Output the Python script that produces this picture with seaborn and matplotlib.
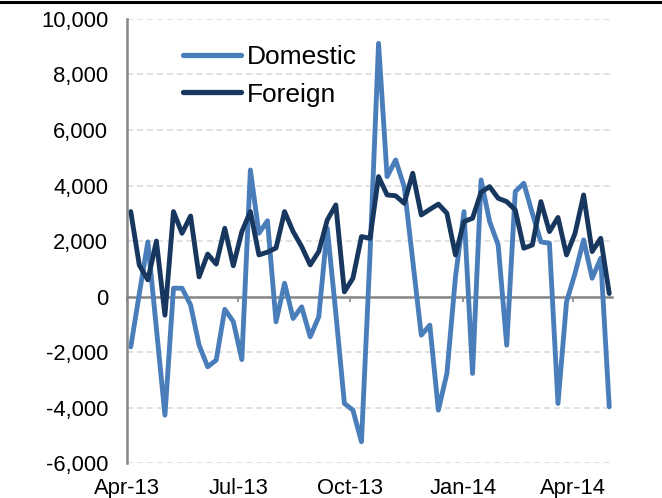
import numpy as np
import pandas as pd
import seaborn as sns
import matplotlib.pyplot as plt
import matplotlib.dates as mdates
from matplotlib.lines import Line2D
from matplotlib.ticker import FuncFormatter

sns.set_theme(style="white")
plt.rcParams["font.family"] = ["Liberation Sans", "DejaVu Sans"]

# weekly flows
weeks = pd.date_range("2013-04-04", periods=57, freq="7D")
domestic = [-1810, 100, 1970, -1150, -4270, 300, 300, -300, -1750, -2530,
            -2290, -460, -900, -2270, 4560, 2280, 2730, -910, 480, -790,
            -370, -1450, -730, 2460, -600, -3850, -4090, -5230, 1500, 9120,
            4320, 4920, 3960, 1300, -1390, -1030, -4090, -2770, 700, 3060,
            -2770, 4200, 2700, 1860, -1750, 3780, 4080, 3000, 1970, 1920,
            -3850, -190, 840, 2040, 660, 1380, -3970]
foreign = [3060, 1130, 600, 2000, -670, 3060, 2280, 2900, 710, 1530,
           1170, 2460, 1110, 2340, 3060, 1500, 1600, 1750, 3060, 2340,
           1800, 1140, 1620, 2760, 3300, 170, 660, 2160, 2100, 4320,
           3660, 3630, 3360, 4440, 2940, 3140, 3330, 3000, 1500, 2700,
           2820, 3760, 3960, 3540, 3420, 3120, 1740, 1860, 3420, 2340,
           2850, 1500, 2280, 3660, 1620, 2100, 110]
series_names = ["Domestic", "Foreign"]
colors = ["#4A7EBB", "#17375E"]
tick_dates = pd.to_datetime(["2013-04-01", "2013-07-01", "2013-10-01",
                             "2014-01-01", "2014-04-01"])
tick_labels = ["Apr-13", "Jul-13", "Oct-13", "Jan-14", "Apr-14"]
y_ticks = list(range(-6000, 10001, 2000))

df = pd.DataFrame({
    "week": np.tile(weeks, 2),
    "flow": domestic + foreign,
    "series": np.repeat(series_names, len(weeks)),
})

fig = plt.figure(figsize=(6.62, 4.98), dpi=100)
ax = fig.add_axes([0.192, 0.070, 0.732, 0.892])

sns.lineplot(data=df, x="week", y="flow", hue="series", hue_order=series_names,
             palette=colors, linewidth=3.5, solid_joinstyle="round", ax=ax)

ax.set_xlim(pd.Timestamp("2013-04-01"), pd.Timestamp("2014-05-03"))
ax.set_ylim(-6000, 10000)
ax.set_yticks(y_ticks)
ax.yaxis.set_major_formatter(FuncFormatter(lambda v, p: f"{int(v):,}"))
ax.set_xticks(tick_dates)
ax.set_xticklabels(tick_labels)
ax.set_xlabel("")
ax.set_ylabel("")

ax.grid(axis="y", color="#D9D9D9", linestyle=(0, (4, 2.5)), linewidth=1.1)
ax.grid(axis="x", visible=False)
for s in ["top", "right", "bottom"]:
    ax.spines[s].set_visible(False)
ax.spines["left"].set_color("#868686")
ax.spines["left"].set_linewidth(1.8)
ax.tick_params(axis="y", direction="out", length=3.6, width=1.5, color="#868686",
               labelsize=15.8, labelcolor="black", pad=10)
ax.tick_params(axis="x", length=0, labelsize=15.8, labelcolor="black", pad=11)

# category axis sits on the zero line, labels stay at the bottom
sec = ax.secondary_xaxis(0, transform=ax.transData)
sec.set_zorder(1.8)
sec.set_xticks(mdates.date2num(tick_dates))
sec.tick_params(direction="out", length=3.5, width=1.2, color="#868686",
                labelbottom=False)
sec.spines["bottom"].set_color("#868686")
sec.spines["bottom"].set_linewidth(1.8)

sns.move_legend(ax, loc="upper left", bbox_to_anchor=(0.094, 0.964), title=None,
                frameon=False, fontsize=19, handlelength=2.2,
                handletextpad=0.2, labelspacing=0.5, borderaxespad=0)
for line in ax.get_legend().get_lines():
    line.set_linewidth(3.8)
for txt in ax.get_legend().get_texts():
    txt.set_color("black")

fig.add_artist(Line2D([0, 1], [0.995, 0.995], transform=fig.transFigure,
                      color="black", linewidth=2.2))

fig.savefig("out.png", dpi=100)
